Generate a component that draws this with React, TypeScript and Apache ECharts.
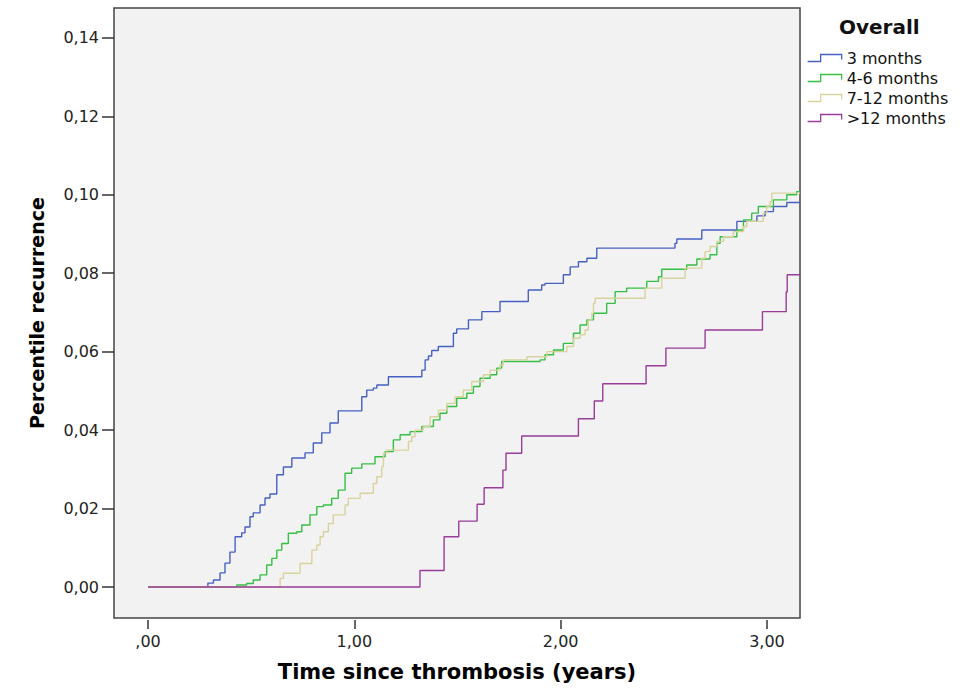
import React, { useEffect, useRef } from "react";
import * as echarts from "echarts";

// Kaplan–Meier style cumulative recurrence: [time in years, cumulative recurrence]
const months3: [number, number][] = [
  [0, 0], [0.29, 0.001], [0.317, 0.0018], [0.349, 0.0036], [0.373, 0.0061], [0.397, 0.0089],
  [0.422, 0.0128], [0.454, 0.0138], [0.47, 0.0153], [0.494, 0.0179], [0.51, 0.0189],
  [0.543, 0.0209], [0.567, 0.0227], [0.591, 0.0237], [0.624, 0.0286], [0.656, 0.0306],
  [0.697, 0.0329], [0.761, 0.0342], [0.801, 0.0367], [0.842, 0.0393], [0.882, 0.0418],
  [0.922, 0.0449], [1.036, 0.0485], [1.06, 0.0502], [1.092, 0.0507], [1.109, 0.0515],
  [1.165, 0.0536], [1.327, 0.0553], [1.343, 0.0579], [1.359, 0.0589], [1.375, 0.0603],
  [1.407, 0.0613], [1.48, 0.0647], [1.496, 0.0658], [1.553, 0.0681], [1.618, 0.0702],
  [1.706, 0.0728], [1.843, 0.0757], [1.908, 0.077], [1.924, 0.0774], [2.013, 0.0796],
  [2.046, 0.0816], [2.086, 0.0829], [2.127, 0.0838], [2.175, 0.0864], [2.554, 0.0876],
  [2.563, 0.0887], [2.684, 0.091], [2.854, 0.0932], [2.951, 0.0946], [2.991, 0.0957],
  [3.031, 0.097], [3.096, 0.098], [3.16, 0.098],
];

const months4to6: [number, number][] = [
  [0, 0], [0.43, 0.0005], [0.478, 0.0009], [0.51, 0.0018], [0.543, 0.0031], [0.575, 0.0056],
  [0.6, 0.0073], [0.624, 0.0094], [0.648, 0.0111], [0.68, 0.0137], [0.721, 0.0141],
  [0.745, 0.0158], [0.785, 0.0184], [0.818, 0.0205], [0.85, 0.0209], [0.89, 0.0226],
  [0.922, 0.0247], [0.955, 0.029], [0.987, 0.0303], [1.036, 0.0314], [1.1, 0.0332],
  [1.149, 0.0345], [1.189, 0.0375], [1.222, 0.0388], [1.27, 0.0396], [1.327, 0.0409],
  [1.383, 0.0426], [1.415, 0.0443], [1.448, 0.046], [1.496, 0.0481], [1.545, 0.0494],
  [1.577, 0.0511], [1.609, 0.0532], [1.658, 0.0541], [1.69, 0.0558], [1.714, 0.0575],
  [1.9, 0.0579], [1.924, 0.0592], [1.965, 0.0604], [2.013, 0.0621], [2.062, 0.0647],
  [2.094, 0.0668], [2.127, 0.0681], [2.159, 0.0698], [2.223, 0.0723], [2.264, 0.0753],
  [2.32, 0.0762], [2.417, 0.0779], [2.474, 0.0791], [2.49, 0.081], [2.611, 0.0821],
  [2.66, 0.0836], [2.724, 0.0847], [2.757, 0.0876], [2.773, 0.0893], [2.854, 0.091],
  [2.886, 0.0936], [2.926, 0.0953], [2.958, 0.097], [3.031, 0.0987], [3.096, 0.1],
  [3.144, 0.1008], [3.16, 0.1008],
];

const months7to12: [number, number][] = [
  [0, 0], [0.64, 0.0022], [0.656, 0.0035], [0.737, 0.006], [0.794, 0.0094], [0.818, 0.0107],
  [0.834, 0.0128], [0.85, 0.0141], [0.874, 0.0162], [0.898, 0.0184], [0.955, 0.0209],
  [0.971, 0.0226], [1.028, 0.0239], [1.092, 0.0264], [1.109, 0.0281], [1.133, 0.0307],
  [1.141, 0.0341], [1.157, 0.0349], [1.262, 0.0371], [1.278, 0.0383], [1.294, 0.04],
  [1.334, 0.0409], [1.367, 0.0434], [1.407, 0.0451], [1.448, 0.0468], [1.488, 0.0485],
  [1.528, 0.0502], [1.569, 0.0524], [1.625, 0.0541], [1.658, 0.0553], [1.706, 0.0566],
  [1.722, 0.0579], [1.836, 0.0587], [1.933, 0.06], [2.03, 0.0613], [2.062, 0.0634],
  [2.094, 0.0643], [2.118, 0.0655], [2.134, 0.0681], [2.151, 0.0698], [2.159, 0.0723],
  [2.167, 0.0736], [2.409, 0.0762], [2.49, 0.0787], [2.603, 0.0813], [2.684, 0.0838],
  [2.7, 0.0855], [2.724, 0.0868], [2.757, 0.0881], [2.789, 0.0893], [2.837, 0.0906],
  [2.886, 0.0919], [2.902, 0.0932], [2.982, 0.0953], [2.999, 0.097], [3.015, 0.0982],
  [3.023, 0.1004], [3.16, 0.1004],
];

const months12plus: [number, number][] = [
  [0, 0], [1.318, 0.0042], [1.435, 0.0128], [1.506, 0.0168], [1.595, 0.0211], [1.629, 0.0253],
  [1.72, 0.0298], [1.735, 0.0341], [1.811, 0.0385], [2.086, 0.0429], [2.163, 0.0474],
  [2.204, 0.0518], [2.414, 0.0564], [2.51, 0.0609], [2.7, 0.0655], [2.978, 0.0702],
  [3.093, 0.0752], [3.098, 0.0796], [3.16, 0.0796],
];

const seriesNames = ["3 months", "4-6 months", "7-12 months", ">12 months"];
const seriesColors = ["#4760c4", "#36bf45", "#d8d39c", "#983d98"];
const xTicks = [0, 1, 2, 3];
const yTicks = [0, 0.02, 0.04, 0.06, 0.08, 0.1, 0.12, 0.14];

const legendTitle = "Overall";
const xTitle = "Time since thrombosis (years)";
const yTitle = "Percentile recurrence";

const FONT = "DejaVu Sans, Verdana, sans-serif";

export default function App() {
  const ref = useRef<HTMLDivElement>(null);

  useEffect(() => {
    if (!ref.current) return;
    const chart = echarts.init(ref.current, undefined, { renderer: "svg" });
    const allData = [months3, months4to6, months7to12, months12plus];
    const fmt = (v: number) => v.toFixed(2).replace(".", ",");
    chart.setOption({
      animation: false,
      backgroundColor: "#ffffff",
      title: {
        text: legendTitle,
        left: 834,
        top: 12,
        textStyle: { fontFamily: FONT, fontWeight: "bold", fontSize: 20, color: "#111" },
      },
      legend: {
        orient: "vertical",
        left: 802,
        top: 45,
        itemWidth: 34,
        itemHeight: 7,
        itemGap: 4,
        selectedMode: false,
        textStyle: { fontFamily: FONT, fontSize: 16, color: "#111" },
        data: seriesNames.map((n, i) => ({
          name: n,
          icon: "path://M0,7 L13,7 L13,0 L34,0 L34,5",
          itemStyle: { color: "transparent", borderColor: seriesColors[i], borderWidth: 1.3 },
        })),
      },
      grid: {
        left: 114,
        top: 8,
        width: 686,
        height: 610,
        show: true,
        backgroundColor: "#f2f2f2",
        borderColor: "#444",
        borderWidth: 1.5,
      },
      xAxis: {
        type: "value",
        min: -0.165,
        max: 3.16,
        offset: 2,
        name: xTitle,
        nameLocation: "middle",
        nameGap: 41,
        nameTextStyle: { fontFamily: FONT, fontWeight: "bold", fontSize: 21, color: "#000", verticalAlign: "top" },
        axisLine: { show: false, onZero: false },
        axisTick: { show: true, length: 9, customValues: xTicks, lineStyle: { color: "#333", width: 1.5 } },
        axisLabel: {
          customValues: xTicks,
          margin: 13,
          fontFamily: FONT,
          fontSize: 16,
          color: "#222",
          formatter: (v: number) => (v === 0 ? ",00" : fmt(v)),
        },
        splitLine: { show: false },
      },
      yAxis: {
        type: "value",
        min: -0.0079,
        max: 0.1476,
        name: yTitle,
        nameLocation: "middle",
        nameGap: 68,
        nameTextStyle: { fontFamily: FONT, fontWeight: "bold", fontSize: 19, color: "#000" },
        axisLine: { show: false, onZero: false },
        axisTick: { show: true, length: 12, customValues: yTicks, lineStyle: { color: "#333", width: 1.5 } },
        axisLabel: {
          customValues: yTicks,
          margin: 15,
          fontFamily: FONT,
          fontSize: 16,
          color: "#222",
          formatter: (v: number) => fmt(v),
        },
        splitLine: { show: false },
      },
      series: seriesNames.map((n, i) => ({
        name: n,
        type: "line",
        step: "end",
        showSymbol: false,
        symbol: "none",
        data: allData[i],
        color: seriesColors[i],
        lineStyle: { color: seriesColors[i], width: 1.4 },
        z: 2 + i,
      })),
    });
    return () => chart.dispose();
  }, []);

  return (
    <div
      ref={ref}
      style={{ position: "fixed", left: 0, top: 0, width: 976, height: 691 }}
    />
  );
}
